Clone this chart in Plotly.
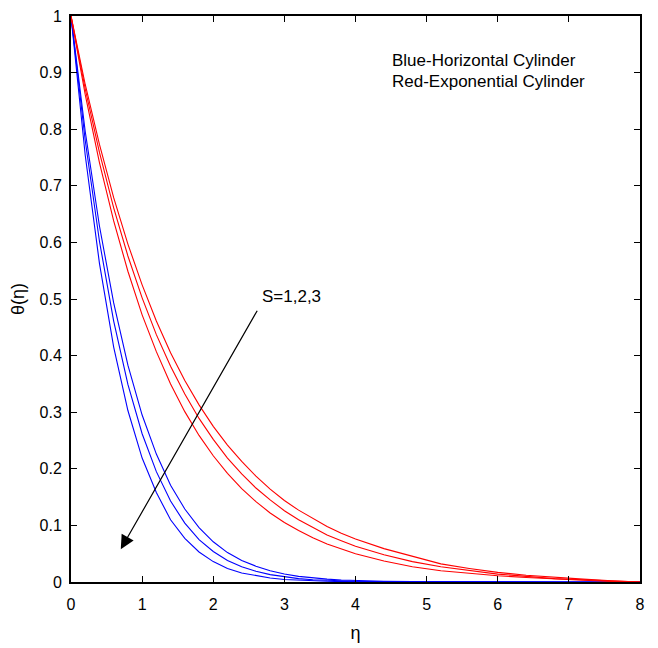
import plotly.graph_objects as go

eta = [0.0, 0.2, 0.4, 0.6, 0.8, 1.0, 1.2, 1.4, 1.6, 1.8, 2.0, 2.2, 2.4, 2.6, 2.8, 3.0, 3.2, 3.4, 3.6, 3.8, 4.0,
       4.4, 4.8, 5.2, 5.6, 6.0, 6.4, 6.8, 7.2, 7.6, 8.0]

blue_s1 = [1.0, 0.796, 0.629, 0.493, 0.383, 0.295, 0.226, 0.171, 0.129, 0.096, 0.071, 0.052, 0.038, 0.028, 0.020,
           0.014, 0.010, 0.007, 0.005, 0.0035, 0.0025, 0.0013, 0.0007, 0.0004, 0.0002, 0.0001, 0.0, 0.0, 0.0, 0.0, 0.0]
blue_s2 = [1.0, 0.780, 0.602, 0.461, 0.349, 0.262, 0.195, 0.143, 0.104, 0.075, 0.054, 0.038, 0.027, 0.019, 0.013,
           0.009, 0.006, 0.004, 0.0027, 0.0018, 0.0012, 0.0006, 0.0003, 0.0002, 0.0001, 0.0, 0.0, 0.0, 0.0, 0.0, 0.0]
blue_s3 = [1.0, 0.754, 0.563, 0.415, 0.303, 0.219, 0.158, 0.110, 0.077, 0.053, 0.036, 0.024, 0.016, 0.011, 0.007,
           0.0045, 0.003, 0.002, 0.0012, 0.0008, 0.0005, 0.0002, 0.0001, 0.0, 0.0, 0.0, 0.0, 0.0, 0.0, 0.0, 0.0]

red_s1 = [1.0, 0.879, 0.773, 0.679, 0.597, 0.525, 0.461, 0.405, 0.356, 0.313, 0.275, 0.242, 0.213, 0.187, 0.164,
          0.144, 0.127, 0.112, 0.098, 0.086, 0.076, 0.059, 0.045, 0.032, 0.024, 0.017, 0.012, 0.008, 0.005, 0.002, 0.0]
red_s2 = [1.0, 0.871, 0.759, 0.661, 0.576, 0.502, 0.437, 0.381, 0.332, 0.289, 0.252, 0.219, 0.191, 0.166, 0.145,
          0.126, 0.110, 0.096, 0.083, 0.073, 0.063, 0.048, 0.036, 0.027, 0.020, 0.014, 0.010, 0.006, 0.004, 0.002, 0.0]
red_s3 = [1.0, 0.861, 0.741, 0.638, 0.549, 0.472, 0.407, 0.350, 0.301, 0.259, 0.223, 0.192, 0.165, 0.142, 0.122,
          0.105, 0.091, 0.078, 0.067, 0.058, 0.050, 0.037, 0.027, 0.020, 0.015, 0.011, 0.008, 0.005, 0.003, 0.001, 0.0]

x_ticks = [0, 1, 2, 3, 4, 5, 6, 7, 8]
y_ticks = [0, 0.1, 0.2, 0.3, 0.4, 0.5, 0.6, 0.7, 0.8, 0.9, 1]
y_tick_labels = ["0", "0.1", "0.2", "0.3", "0.4", "0.5", "0.6", "0.7", "0.8", "0.9", "1"]

FONT = "Liberation Sans, Arial, sans-serif"

fig = go.Figure()
for ys in (blue_s1, blue_s2, blue_s3):
    fig.add_trace(go.Scatter(x=eta, y=ys, mode="lines", line=dict(color="#0000ff", width=1.1), showlegend=False))
for ys in (red_s1, red_s2, red_s3):
    fig.add_trace(go.Scatter(x=eta, y=ys, mode="lines", line=dict(color="#ff0000", width=1.1), showlegend=False))

fig.add_annotation(x=0.70, y=0.058, ax=2.63, ay=0.482, xref="x", yref="y", axref="x", ayref="y",
                   showarrow=True, arrowhead=2, arrowsize=2.3, arrowwidth=1.2, arrowcolor="black", text="")
fig.add_annotation(x=2.66, y=0.504, xref="x", yref="y", text="S=1,2,3", showarrow=False,
                   xanchor="left", yanchor="middle", font=dict(family=FONT, size=17, color="black"))
fig.add_annotation(x=4.49, y=0.922, xref="x", yref="y", text="Blue-Horizontal Cylinder", showarrow=False,
                   xanchor="left", yanchor="middle", font=dict(family=FONT, size=17, color="black"))
fig.add_annotation(x=4.49, y=0.884, xref="x", yref="y", text="Red-Exponential Cylinder", showarrow=False,
                   xanchor="left", yanchor="middle", font=dict(family=FONT, size=17, color="black"))

axis_common = dict(showgrid=False, zeroline=False, showline=True, linecolor="black", linewidth=2,
                   mirror="ticks", ticks="inside", ticklen=6, tickcolor="black", tickwidth=1.2,
                   automargin=False, ticklabeloverflow="allow",
                   tickfont=dict(family=FONT, size=16, color="black"))
fig.update_xaxes(range=[0, 8], tickvals=x_ticks, ticktext=[str(v) for v in x_ticks], ticklabelstandoff=7,
                 title=dict(text="η", font=dict(family=FONT, size=18, color="black"), standoff=14), **axis_common)
fig.update_yaxes(range=[0, 1], tickvals=y_ticks, ticktext=y_tick_labels, ticklabelstandoff=4,
                 title=dict(text="θ(η)", font=dict(family=FONT, size=18, color="black"), standoff=12), **axis_common)

fig.update_layout(width=650, height=640, margin=dict(l=63, r=18, t=8, b=66),
                  plot_bgcolor="white", paper_bgcolor="white", showlegend=False)

fig.write_html("out.html")
